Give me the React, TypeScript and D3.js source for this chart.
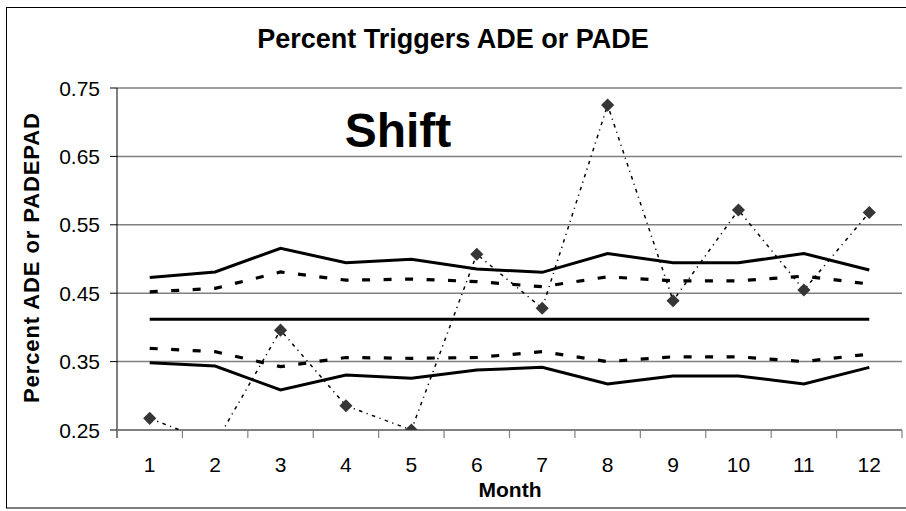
import React from "react";
import * as d3 from "d3";

const months = [1, 2, 3, 4, 5, 6, 7, 8, 9, 10, 11, 12];
const observed = [0.267, 0.23, 0.396, 0.2855, 0.25, 0.507, 0.428, 0.725, 0.439, 0.5716, 0.4547, 0.568];
const ucl = [0.473, 0.481, 0.5156, 0.4946, 0.4995, 0.4854, 0.4805, 0.508, 0.4946, 0.4946, 0.508, 0.484];
const uwl = [0.452, 0.457, 0.481, 0.469, 0.4707, 0.467, 0.4595, 0.474, 0.468, 0.468, 0.475, 0.4634];
const centerLine = [0.412, 0.412, 0.412, 0.412, 0.412, 0.412, 0.412, 0.412, 0.412, 0.412, 0.412, 0.412];
const lwl = [0.3694, 0.3645, 0.3426, 0.356, 0.3548, 0.356, 0.3645, 0.35, 0.357, 0.357, 0.35, 0.361];
const lcl = [0.3484, 0.3436, 0.3085, 0.3304, 0.3255, 0.3377, 0.3416, 0.3173, 0.329, 0.329, 0.3173, 0.3416];
const yTicks = [0.25, 0.35, 0.45, 0.55, 0.65, 0.75];

const W = 906;
const H = 511;
const left = 117;
const right = 902;
const top = 88;
const bottom = 430;
const FONT = "'Liberation Sans', Arial, sans-serif";

export default function App() {
  const x = d3.scaleBand<number>().domain(months).range([left, right]).padding(0);
  const cx = (m: number) => (x(m) as number) + x.bandwidth() / 2;
  const y = d3.scaleLinear().domain([0.25, 0.75]).range([bottom, top]);

  const line = d3
    .line<number>()
    .x((_, i) => cx(months[i]))
    .y((d) => y(d));

  const boundaries = d3.range(months.length + 1).map((i) => left + i * x.bandwidth());
  const diamond = d3.symbol().type(d3.symbolDiamond2).size(110)();

  return (
    <svg
      width={W}
      height={H}
      style={{ position: "absolute", left: 0, top: 0, background: "#fff" }}
    >
      <defs>
        <clipPath id="plot">
          <rect x={left} y={top - 10} width={right - left + 10} height={bottom - top + 10} />
        </clipPath>
      </defs>
      <rect x={6.5} y={7.5} width={W} height={500.5} fill="#fff" stroke="#000" strokeWidth={1} />

      {/* gridlines */}
      {yTicks.slice(1).map((t) => (
        <line key={t} x1={left} x2={right} y1={y(t)} y2={y(t)} stroke="#808080" strokeWidth={1.5} />
      ))}
      {/* y axis */}
      <line x1={left} x2={left} y1={top} y2={bottom + 8} stroke="#000" strokeWidth={1} />
      {yTicks.map((t) => (
        <g key={"yt" + t}>
          <line x1={left - 7} x2={left} y1={y(t)} y2={y(t)} stroke="#000" strokeWidth={1} />
          <text
            x={100}
            y={y(t)}
            dy="0.36em"
            textAnchor="end"
            fontFamily={FONT}
            fontSize={21}
            fill="#000"
          >
            {t.toFixed(2)}
          </text>
        </g>
      ))}
      {/* x axis */}
      <line x1={left} x2={right} y1={bottom} y2={bottom} stroke="#808080" strokeWidth={2} />
      {boundaries.map((b, i) => (
        <line key={"xb" + i} x1={b} x2={b} y1={bottom} y2={bottom + 8} stroke="#808080" strokeWidth={1.2} />
      ))}
      {months.map((m) => (
        <text
          key={"xl" + m}
          x={cx(m)}
          y={472}
          textAnchor="middle"
          fontFamily={FONT}
          fontSize={21}
          fill="#000"
        >
          {m}
        </text>
      ))}

      <g clipPath="url(#plot)">
        <path d={line(ucl) || ""} fill="none" stroke="#000" strokeWidth={3} />
        <path d={line(lcl) || ""} fill="none" stroke="#000" strokeWidth={3} />
        <path d={line(centerLine) || ""} fill="none" stroke="#000" strokeWidth={3} />
        <path d={line(uwl) || ""} fill="none" stroke="#000" strokeWidth={3.2} strokeDasharray="8,13.5" />
        <path d={line(lwl) || ""} fill="none" stroke="#000" strokeWidth={3.2} strokeDasharray="8,13.5" />
        <path
          d={line(observed) || ""}
          fill="none"
          stroke="#000"
          strokeWidth={1.5}
          strokeDasharray="3.5,4.5,1.2,4.5"
        />
        {observed.map((v, i) =>
          v >= 0.25 ? (
            <path
              key={"d" + i}
              d={diamond || ""}
              transform={`translate(${cx(months[i])},${y(v)})`}
              fill="#363636"
            />
          ) : null
        )}
      </g>

      <text x={453} y={48} textAnchor="middle" fontFamily={FONT} fontWeight="bold" fontSize={27} fill="#000">
        Percent Triggers ADE or PADE
      </text>
      <text x={398} y={147} textAnchor="middle" fontFamily={FONT} fontWeight="bold" fontSize={48} fill="#000">
        Shift
      </text>
      <text x={510} y={497} textAnchor="middle" fontFamily={FONT} fontWeight="bold" fontSize={21} fill="#000">
        Month
      </text>
      <text
        transform={`translate(39,258) rotate(-90)`}
        textAnchor="middle"
        fontFamily={FONT}
        fontWeight="bold"
        fontSize={22}
        fill="#000"
        textLength={290}
        lengthAdjust="spacing"
      >
        Percent ADE or PADEPAD
      </text>
    </svg>
  );
}
